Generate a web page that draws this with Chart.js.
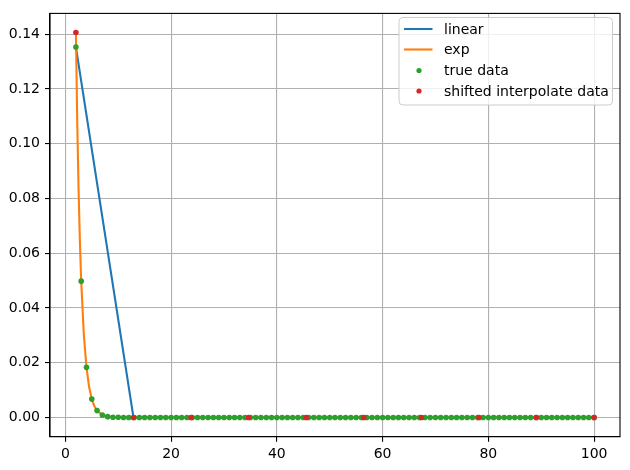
<!DOCTYPE html>
<html>
<head>
<meta charset="utf-8">
<script src="https://cdn.jsdelivr.net/npm/chart.js@4"></script>
<style>
  html, body { margin: 0; padding: 0; background: #fff; }
  #wrap { width: 630px; height: 470px; }
</style>
</head>
<body>
<div id="wrap"><canvas id="chart"></canvas></div>
<script>
// interpolation nodes (10 evenly spaced points between 2 and 100)
const nodeX = [2, 12.889, 23.778, 34.667, 45.556, 56.444, 67.333, 78.222, 89.111, 100]
const linearY = [0.1353, 0, 0, 0, 0, 0, 0, 0, 0, 0]
const shiftedY = [0.1406, 0, 0, 0, 0, 0, 0, 0, 0, 0]

// exp curve
const expX = [2, 2.25, 2.5, 2.75, 3, 3.5, 4, 4.5, 5, 5.5, 6, 7, 8, 9, 10, 12, 100]
const expY = [0.1406, 0.1084, 0.0836, 0.0645, 0.0498, 0.0302, 0.0183, 0.0111, 0.0067, 0.0041, 0.0025, 0.0009, 0.0003, 0.0001, 0.00005, 0, 0]

// true data, one point per integer x
const trueX = [
    2, 3, 4, 5, 6, 7, 8, 9, 10, 11,
    12, 13, 14, 15, 16, 17, 18, 19, 20, 21,
    22, 23, 24, 25, 26, 27, 28, 29, 30, 31,
    32, 33, 34, 35, 36, 37, 38, 39, 40, 41,
    42, 43, 44, 45, 46, 47, 48, 49, 50, 51,
    52, 53, 54, 55, 56, 57, 58, 59, 60, 61,
    62, 63, 64, 65, 66, 67, 68, 69, 70, 71,
    72, 73, 74, 75, 76, 77, 78, 79, 80, 81,
    82, 83, 84, 85, 86, 87, 88, 89, 90, 91,
    92, 93, 94, 95, 96, 97, 98, 99, 100]
const trueY = [
    0.1353, 0.0498, 0.0183, 0.0067, 0.0025, 0.0009, 0.0003, 0.0001, 0.00005, 0,
    0, 0, 0, 0, 0, 0, 0, 0, 0, 0,
    0, 0, 0, 0, 0, 0, 0, 0, 0, 0,
    0, 0, 0, 0, 0, 0, 0, 0, 0, 0,
    0, 0, 0, 0, 0, 0, 0, 0, 0, 0,
    0, 0, 0, 0, 0, 0, 0, 0, 0, 0,
    0, 0, 0, 0, 0, 0, 0, 0, 0, 0,
    0, 0, 0, 0, 0, 0, 0, 0, 0, 0,
    0, 0, 0, 0, 0, 0, 0, 0, 0, 0,
    0, 0, 0, 0, 0, 0, 0, 0, 0]

const xTicks = [0, 20, 40, 60, 80, 100]
const yTicks = [0, 0.02, 0.04, 0.06, 0.08, 0.10, 0.12, 0.14]

const toPts = (xs, ys) => xs.map((x, i) => ({x: x, y: ys[i]}))

let colors = ['#1f77b4', '#ff7f0e', '#2ca02c', '#d62728'] // matplotlib tab10

// top and right spines
const frame = {
    id: 'frame',
    afterDraw(chart) {
        const a = chart.chartArea
        const c = chart.ctx
        c.save()
        c.strokeStyle = '#000'
        c.lineWidth = 1.1
        c.strokeRect(a.left, a.top, a.right - a.left, a.bottom - a.top)
        c.restore()
    }
}

// legend box in the upper right corner
const boxLegend = {
    id: 'boxLegend',
    afterDraw(chart) {
        const c = chart.ctx
        const x0 = 399, y0 = 17.5, w = 213.5, h = 87.5, r = 4
        c.save()
        c.beginPath()
        c.roundRect(x0, y0, w, h, r)
        c.fillStyle = 'rgba(255,255,255,0.8)'
        c.fill()
        c.strokeStyle = '#cccccc'
        c.lineWidth = 1
        c.stroke()
        c.font = '14px "DejaVu Sans"'
        c.textBaseline = 'middle'
        const rows = [29, 49.5, 70.5, 91]
        chart.data.datasets.forEach((ds, i) => {
            const y = rows[i]
            if (ds.showLine) {
                c.strokeStyle = ds.borderColor
                c.lineWidth = 2.1
                c.beginPath()
                c.moveTo(404, y)
                c.lineTo(432.5, y)
                c.stroke()
            } else {
                c.fillStyle = ds.backgroundColor
                c.beginPath()
                c.arc(419, y, 2.6, 0, Math.PI * 2)
                c.fill()
            }
            c.fillStyle = '#000'
            c.fillText(ds.label, 444, y + 1)
        })
        c.restore()
    }
}

new Chart(document.getElementById('chart').getContext('2d'), {
    type: 'scatter',
    data: {
        datasets: [
            {
                label: 'linear',
                data: toPts(nodeX, linearY),
                showLine: true,
                borderColor: colors[0],
                backgroundColor: colors[0],
                borderWidth: 2.1,
                pointRadius: 0,
                order: 4
            },
            {
                label: 'exp',
                data: toPts(expX, expY),
                showLine: true,
                borderColor: colors[1],
                backgroundColor: colors[1],
                borderWidth: 2.1,
                pointRadius: 0,
                order: 3
            },
            {
                label: 'true data',
                data: toPts(trueX, trueY),
                showLine: false,
                borderColor: colors[2],
                backgroundColor: colors[2],
                borderWidth: 0,
                pointRadius: 2.8,
                order: 2
            },
            {
                label: 'shifted interpolate data',
                data: toPts(nodeX, shiftedY),
                showLine: false,
                borderColor: colors[3],
                backgroundColor: colors[3],
                borderWidth: 0,
                pointRadius: 2.8,
                order: 1
            }
        ]
    },
    options: {
        responsive: true,
        maintainAspectRatio: false,
        animation: false,
        layout: {
            padding: {top: 10, right: 10, left: 0, bottom: 0}
        },
        scales: {
            x: {
                min: -2.9,
                max: 104.9,
                afterBuildTicks: s => { s.ticks = xTicks.map(v => ({value: v})) },
                afterFit: s => { s.height = 33.3 },
                grid: {
                    color: '#b0b0b0',
                    lineWidth: 1.1,
                    tickColor: '#000',
                    tickLength: 5
                },
                border: {color: '#000', width: 1.1},
                ticks: {
                    color: '#000',
                    padding: 4,
                    font: {family: 'DejaVu Sans', size: 14},
                    maxRotation: 0,
                    callback: v => String(v)
                }
            },
            y: {
                min: -0.00703,
                max: 0.1476,
                afterBuildTicks: s => { s.ticks = yTicks.map(v => ({value: v})) },
                afterFit: s => { s.width = 50 },
                grid: {
                    color: '#b0b0b0',
                    lineWidth: 1.1,
                    tickColor: '#000',
                    tickLength: 5
                },
                border: {color: '#000', width: 1.1},
                ticks: {
                    color: '#000',
                    padding: 5,
                    font: {family: 'DejaVu Sans', size: 14},
                    callback: v => v.toFixed(2)
                }
            }
        },
        plugins: {
            legend: {display: false},
            tooltip: {enabled: false}
        }
    },
    plugins: [frame, boxLegend]
});
</script>
</body>
</html>
